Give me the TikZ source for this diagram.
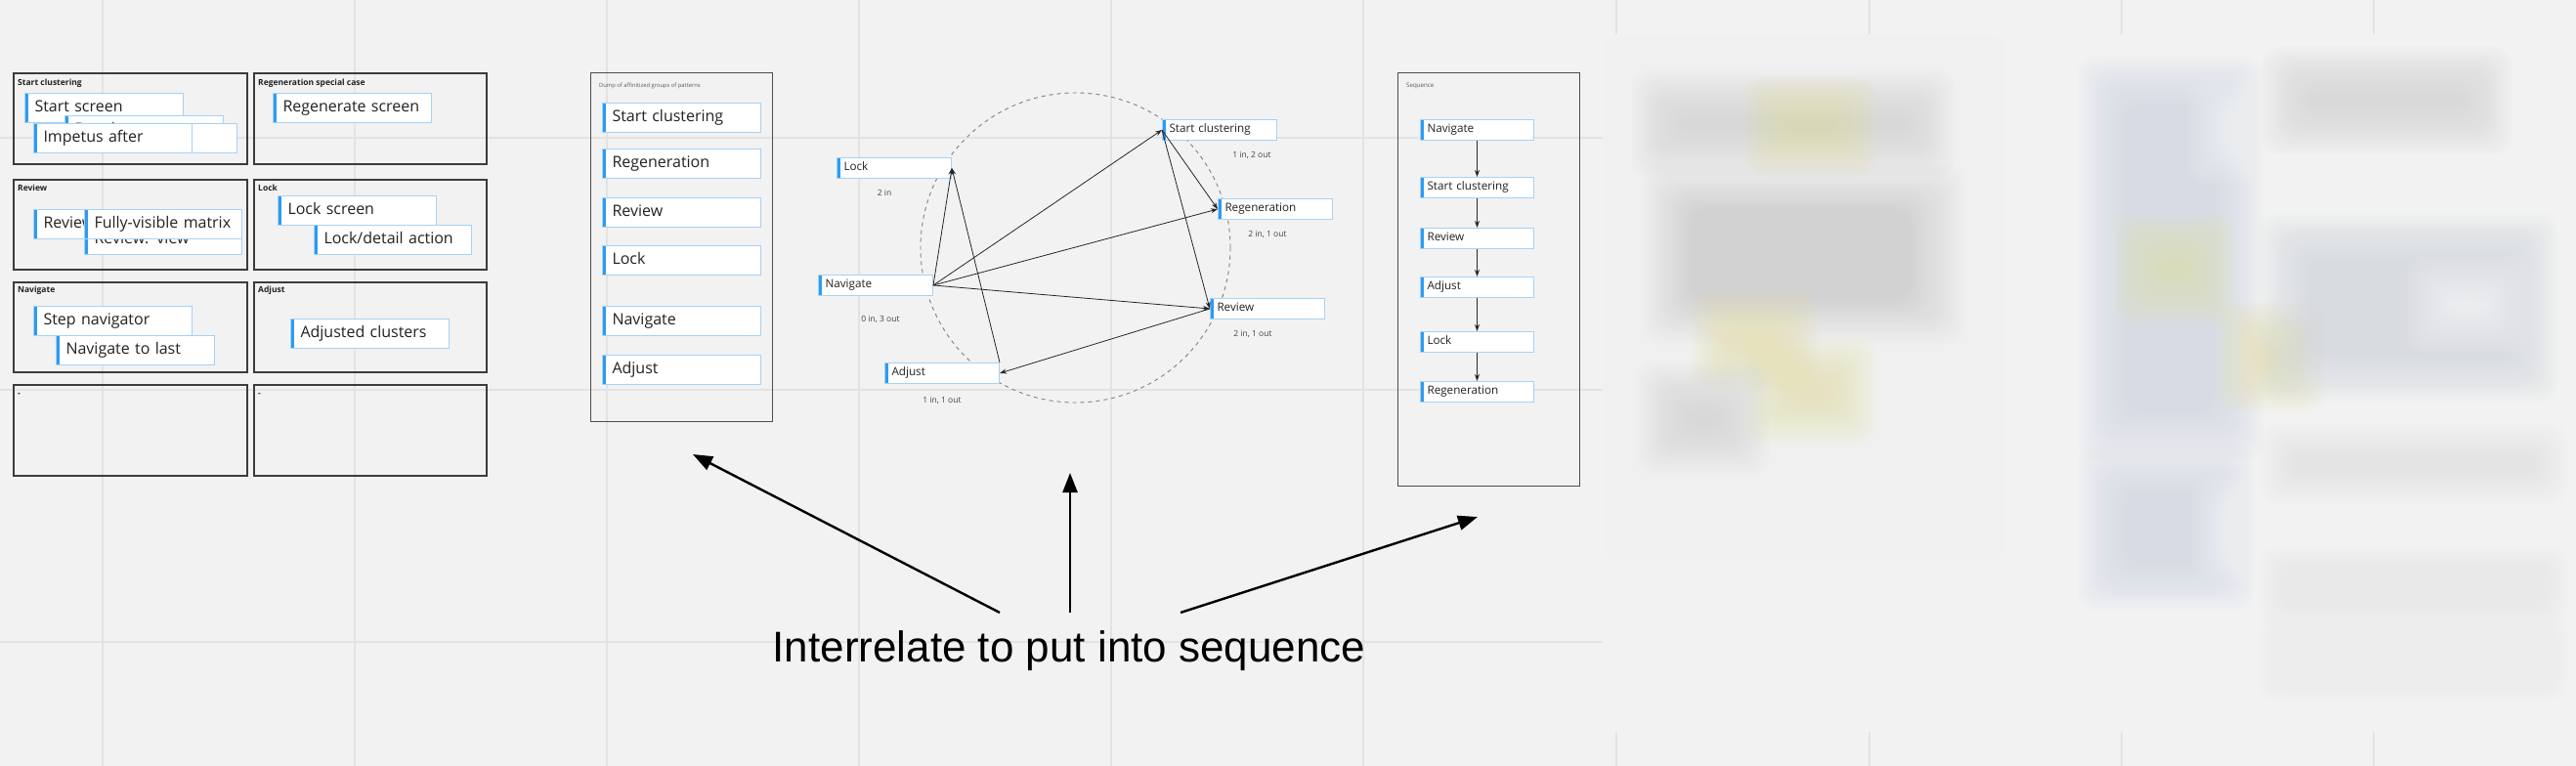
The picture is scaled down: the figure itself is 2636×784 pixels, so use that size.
\documentclass[tikz,border=0pt]{standalone}
\usepackage{fontspec}
\setmainfont{Open Sans}
\newfontfamily\headfont{Liberation Sans}
\usetikzlibrary{arrows.meta}
\definecolor{bgc}{HTML}{F2F2F2}
\definecolor{gridc}{HTML}{E3E3E3}
\definecolor{boxc}{HTML}{3C3C3C}
\definecolor{noteline}{HTML}{A6D2F6}
\definecolor{noteblue}{HTML}{2E9BF0}
\definecolor{txt}{HTML}{222222}
\definecolor{smalltxt}{HTML}{444444}
\definecolor{blobgray}{HTML}{D2D2D2}
\definecolor{blobyellow}{HTML}{E6E1AE}
\definecolor{blobblue}{HTML}{D0D8E4}
\definecolor{blobwhite}{HTML}{F9FAFC}
% soft (blurred) rectangle: many stacked translucent insets
\newcommand\blob[5]{%
  \foreach \k in {0,...,15}{%
    \pgfmathsetmacro\ins{\k*min(3.4,min(#3-#1,#4-#2)/34)}%
    \fill[#5, opacity=0.068, rounded corners=18pt] (#1+\ins,#2+\ins) rectangle (#3-\ins,#4-\ins);}}
\tikzset{
  gridline/.style={draw=gridc, line width=2.5pt},
  grp/.style={draw=boxc, line width=1.6pt, anchor=north west, inner sep=0pt},
  panel/.style={draw=black!70, line width=1.3pt, anchor=north west, inner sep=0pt},
  boxtitle/.style={anchor=base west, inner sep=0pt, font=\fontsize{8.5}{10}\selectfont\bfseries, text=txt},
  tinytitle/.style={anchor=base west, inner sep=0pt, text=black!65},
  note/.style={draw=noteline, fill=white, line width=1pt, anchor=north west, align=left, inner ysep=0pt, text=txt,
    path picture={\fill[noteblue] (path picture bounding box.north west) rectangle ([xshift=3.5pt]path picture bounding box.south west);}},
  bignote/.style={note, text width=142pt, inner xsep=10pt, minimum height=30pt, text height=11.5pt, text depth=4.5pt, font=\fontsize{16}{19}\selectfont},
  smallnote/.style={note, text width=103pt, inner xsep=7pt, minimum height=21pt, text height=8.5pt, text depth=3pt, font=\fontsize{11.7}{14}\selectfont},
  cnt/.style={inner sep=0pt, font=\fontsize{8.5}{10}\selectfont, text=smalltxt},
  link/.style={draw=black!85, line width=0.8pt, -{Stealth[length=7pt,width=5pt]}},
  bigarrow/.style={draw=black, line width=2.4pt, -{Triangle[length=20pt,width=15pt]}},
}
\begin{document}
\begin{tikzpicture}[x=1pt,y=-1pt]
\fill[bgc] (0,0) rectangle (2636,784);
\useasboundingbox (0,0) rectangle (2636,784);
% background grid
\foreach \x in {105,363,621,879,1137,1395} \draw[gridline] (\x,0) -- (\x,784);
\foreach \y in {141,399,657} \draw[gridline] (0,\y) -- (1640,\y);
\foreach \x in {1654,1913,2171,2429} {\draw[gridline] (\x,0) -- (\x,35); \draw[gridline] (\x,749) -- (\x,784);}
% blurred area
\fill[bgc] (1640,35) rectangle (2636,749);
\blob{1640}{35}{2055}{575}{black!6}
\blob{1670}{72}{2000}{182}{blobgray}
\blob{1785}{78}{1920}{180}{blobyellow}
\blob{1680}{168}{2010}{352}{blobgray}
\blob{1710}{192}{1970}{328}{blobgray}
\blob{1730}{298}{1860}{400}{blobyellow}
\blob{1785}{345}{1920}{455}{blobyellow}
\blob{1675}{370}{1810}{486}{blobgray}
\blob{2120}{35}{2636}{752}{black!5}
\blob{2126}{58}{2316}{472}{blobblue}
\blob{2238}{78}{2348}{188}{blobwhite}
\blob{2162}{218}{2288}{332}{blobyellow}
\blob{2268}{308}{2378}{422}{blobyellow}
\blob{2315}{48}{2570}{158}{blobgray}
\blob{2312}{218}{2618}{412}{blobblue!60!blobgray}
\blob{2462}{262}{2588}{362}{blobwhite}
\blob{2126}{455}{2306}{625}{blobblue}
\blob{2242}{488}{2348}{598}{blobwhite}
\blob{2312}{432}{2628}{518}{blobgray!60}
\blob{2312}{558}{2628}{642}{blobgray!50}
\blob{2312}{628}{2628}{718}{blobgray!40}
% ---------- left group boxes ----------
\node[grp, minimum width=239pt, minimum height=93pt] (g1) at (13,74) {};
\node[grp, minimum width=238pt, minimum height=93pt] (g2) at (259,74) {};
\node[grp, minimum width=239pt, minimum height=92pt] (g3) at (13,183) {};
\node[grp, minimum width=238pt, minimum height=92pt] (g4) at (259,183) {};
\node[grp, minimum width=239pt, minimum height=92pt] (g5) at (13,288) {};
\node[grp, minimum width=238pt, minimum height=92pt] (g6) at (259,288) {};
\node[grp, minimum width=239pt, minimum height=93pt] (g7) at (13,393) {};
\node[grp, minimum width=238pt, minimum height=93pt] (g8) at (259,393) {};
\node[boxtitle] (g1t) at (18,87) {Start clustering};
\node[boxtitle] (g2t) at (264,87) {Regeneration special case};
\node[boxtitle] (g3t) at (18,195) {Review};
\node[boxtitle] (g4t) at (264,195) {Lock};
\node[boxtitle] (g5t) at (18,299) {Navigate};
\node[boxtitle] (g6t) at (264,299) {Adjust};
\node[boxtitle] (g7t) at (18,405) {-};
\node[boxtitle] (g8t) at (264,405) {-};
% notes in group boxes
\node[bignote] (n1) at (25,95) {Start screen};
\node[bignote] (n2) at (66,118) {Developer sees with};
\node[bignote, text width=140pt] (n3) at (82,126) {};
\node[bignote] (n4) at (34,126) {Impetus after};
\node[bignote] (n5) at (279,95) {Regenerate screen};
\node[bignote] (n6) at (34,214) {Review};
\node[bignote, text width=141pt] (n7) at (86,230) {Review: view};
\node[bignote, text width=141pt] (n8) at (86,214) {Fully-visible matrix};
\node[bignote] (n9) at (284,200) {Lock screen};
\node[bignote, text width=141pt] (n10) at (321,230) {Lock/detail action};
\node[bignote] (n11) at (34,313) {Step navigator};
\node[bignote] (n12) at (57,343) {Navigate to last};
\node[bignote] (n13) at (297,326) {Adjusted clusters};
% ---------- dump panel ----------
\node[panel, minimum width=186pt, minimum height=357pt] (dump) at (604,74) {};
\node[tinytitle, font=\fontsize{5.8}{7}\selectfont] (dumpt) at (613,89) {Dump of affinitized groups of patterns};
\node[bignote] (d1) at (616,105) {Start clustering};
\node[bignote] (d2) at (616,152) {Regeneration};
\node[bignote] (d3) at (616,202) {Review};
\node[bignote] (d4) at (616,251) {Lock};
\node[bignote] (d5) at (616,313) {Navigate};
\node[bignote] (d6) at (616,363) {Adjust};
% ---------- interrelationship circle ----------
\draw[black!50, line width=0.9pt, dash pattern=on 4pt off 4pt] (1100.5,253.5) circle[radius=158.5];
\node[smallnote] (cstart) at (1189,122) {Start clustering};
\node[smallnote] (cregen) at (1246,203) {Regeneration};
\node[smallnote] (creview) at (1238,305) {Review};
\node[smallnote] (clock) at (856,161) {Lock};
\node[smallnote] (cnav) at (837,281) {Navigate};
\node[smallnote] (cadj) at (905,371) {Adjust};
\node[cnt] (lstart) at (1281,159) {1 in, 2 out};
\node[cnt] (lregen) at (1297,240) {2 in, 1 out};
\node[cnt] (lreview) at (1282,342) {2 in, 1 out};
\node[cnt] (llock) at (905,197) {2 in};
\node[cnt] (lnav) at (901,327) {0 in, 3 out};
\node[cnt] (ladj) at (964,410) {1 in, 1 out};
\draw[link] (cnav.east) -- (clock.east);
\draw[link] (cadj.north east) -- (clock.east);
\draw[link] (cnav.east) -- (cstart.west);
\draw[link] (cnav.east) -- (cregen.west);
\draw[link] (cnav.east) -- (creview.west);
\draw[link] (cstart.west) -- (cregen.west);
\draw[link] (cstart.west) -- (creview.west);
\draw[link] (creview.west) -- (cadj.east);
% ---------- sequence panel ----------
\node[panel, minimum width=186pt, minimum height=423pt] (seq) at (1430,74) {};
\node[tinytitle, font=\fontsize{6.2}{7}\selectfont] (seqt) at (1439,89) {Sequence};
\node[smallnote, text width=102pt] (s1) at (1453,122) {Navigate};
\node[smallnote, text width=102pt] (s2) at (1453,181) {Start clustering};
\node[smallnote, text width=102pt] (s3) at (1453,233) {Review};
\node[smallnote, text width=102pt] (s4) at (1453,283) {Adjust};
\node[smallnote, text width=102pt] (s5) at (1453,339) {Lock};
\node[smallnote, text width=102pt] (s6) at (1453,390) {Regeneration};
\draw[link] (s1) -- (s2);
\draw[link] (s2) -- (s3);
\draw[link] (s3) -- (s4);
\draw[link] (s4) -- (s5);
\draw[link] (s5) -- (s6);
% ---------- caption and arrows ----------
\node[anchor=base, inner sep=0pt, font=\headfont\fontsize{44}{50}\selectfont, text=black] (cap) at (1094,677) {Interrelate to put into sequence};
\coordinate (a1s) at (1023,627);
\coordinate (a2s) at (1095,627);
\coordinate (a3s) at (1208,627);
\coordinate (a1e) at (709,465);
\coordinate (a2e) at (1095,484);
\coordinate (a3e) at (1512,529);
\draw[bigarrow] (a1s) -- (a1e);
\draw[bigarrow] (a2s) -- (a2e);
\draw[bigarrow] (a3s) -- (a3e);
\end{tikzpicture}
\end{document}
